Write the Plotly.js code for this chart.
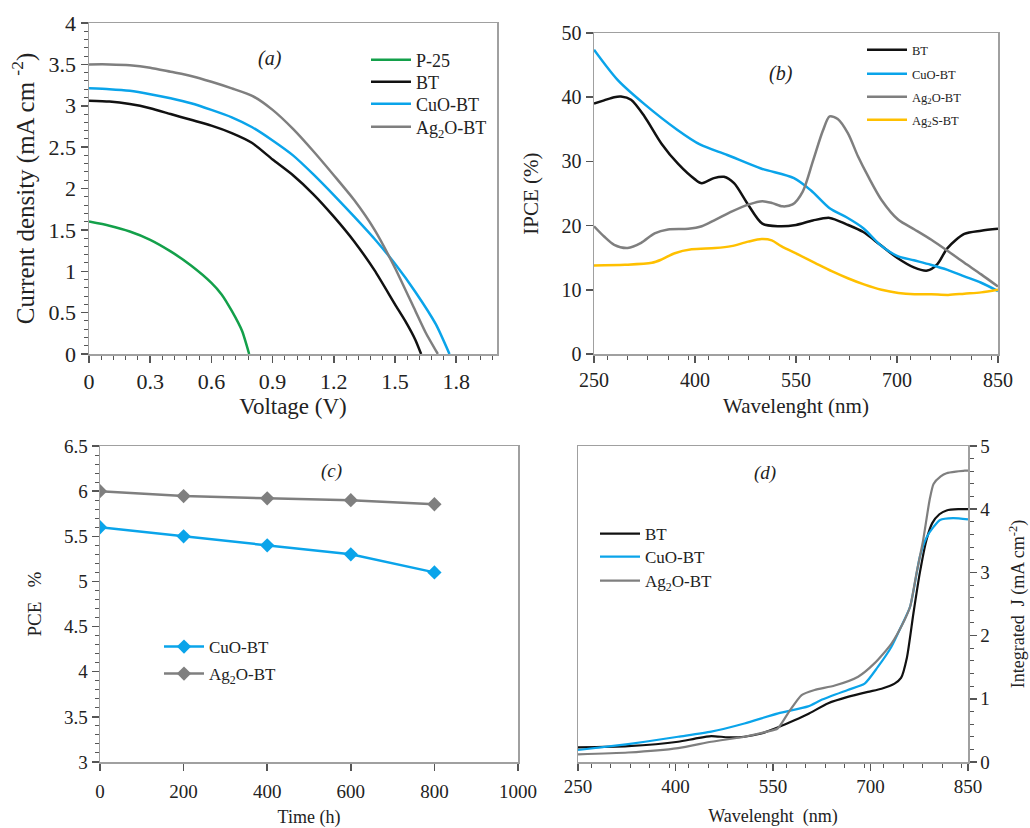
<!DOCTYPE html>
<html>
<head>
<meta charset="utf-8">
<script src="https://cdn.plot.ly/plotly-3.0.1.min.js"></script>
<style>html,body{margin:0;padding:0;background:#fff}#chart{width:1030px;height:828px}</style>
</head>
<body>
<div id="chart"></div>
<script>
// ---------- Panel (a): J-V curves ----------
const jvP25X = [0, 0.1, 0.2, 0.3, 0.4, 0.5, 0.6, 0.65, 0.7, 0.75, 0.785];
const jvP25Y = [1.6, 1.55, 1.48, 1.38, 1.24, 1.07, 0.86, 0.72, 0.52, 0.28, 0];
const jvBTX = [0, 0.1, 0.2, 0.3, 0.4, 0.5, 0.6, 0.7, 0.8, 0.9, 1.0, 1.1, 1.2, 1.3, 1.4, 1.5, 1.55, 1.6, 1.628];
const jvBTY = [3.06, 3.05, 3.02, 2.97, 2.9, 2.83, 2.76, 2.67, 2.55, 2.35, 2.16, 1.93, 1.66, 1.36, 1.01, 0.6, 0.4, 0.17, 0];
const jvCuOX = [0, 0.1, 0.2, 0.3, 0.4, 0.5, 0.6, 0.7, 0.8, 0.9, 1.0, 1.1, 1.2, 1.3, 1.4, 1.5, 1.6, 1.7, 1.767];
const jvCuOY = [3.21, 3.2, 3.18, 3.14, 3.09, 3.03, 2.95, 2.86, 2.74, 2.58, 2.40, 2.17, 1.92, 1.66, 1.39, 1.09, 0.75, 0.36, 0];
const jvAgX = [0, 0.1, 0.2, 0.3, 0.4, 0.5, 0.6, 0.7, 0.8, 0.9, 1.0, 1.1, 1.2, 1.3, 1.4, 1.5, 1.6, 1.65, 1.71];
const jvAgY = [3.5, 3.5, 3.49, 3.46, 3.41, 3.36, 3.29, 3.21, 3.12, 2.95, 2.72, 2.45, 2.16, 1.86, 1.5, 1.04, 0.52, 0.26, 0];

// ---------- Panel (b): IPCE ----------
const ipceBTX = [250, 265, 280, 290, 305, 325, 350, 375, 400, 410, 428, 443, 458, 478, 500, 525, 550, 575, 600, 625, 650, 675, 700, 725, 745, 760, 775, 800, 825, 850];
const ipceBTY = [39.0, 39.5, 40.0, 40.1, 39.6, 37.0, 32.8, 29.6, 27.2, 26.6, 27.4, 27.6, 26.6, 23.4, 20.3, 19.9, 20.1, 20.8, 21.2, 20.2, 19.0, 17.0, 15.0, 13.5, 13.0, 14.0, 16.5, 18.7, 19.2, 19.5];
const ipceCuOX = [250, 285, 324, 374, 408, 448, 498, 547, 572, 600, 625, 650, 675, 700, 725, 750, 775, 800, 825, 850];
const ipceCuOY = [47.4, 42.7, 39.0, 34.9, 32.6, 31.0, 28.9, 27.4, 25.5, 22.7, 21.3, 19.6, 17.0, 15.3, 14.6, 13.9, 13.1, 12.1, 11.1, 9.8];
const ipceAgOX = [250, 265, 280, 300, 320, 340, 360, 390, 410, 430, 455, 480, 500, 515, 530, 545, 560, 575, 590, 600, 612, 627, 642, 657, 677, 702, 726, 751, 776, 800, 825, 850];
const ipceAgOY = [19.9, 18.3, 17.0, 16.5, 17.3, 18.8, 19.4, 19.5, 19.9, 20.9, 22.2, 23.3, 23.8, 23.5, 23.0, 23.3, 25.3, 30.0, 34.8, 37.0, 36.6, 34.4, 30.8, 27.7, 24.0, 20.9, 19.4, 17.8, 16.0, 14.2, 12.4, 10.5];
const ipceAgSX = [250, 296, 336, 350, 370, 395, 430, 454, 479, 499, 514, 528, 553, 578, 603, 627, 652, 677, 702, 726, 751, 776, 800, 825, 850];
const ipceAgSY = [13.8, 13.9, 14.2, 14.7, 15.7, 16.3, 16.5, 16.8, 17.5, 17.9, 17.7, 16.8, 15.5, 14.2, 12.9, 11.8, 10.8, 10.0, 9.5, 9.3, 9.3, 9.2, 9.4, 9.6, 10.0];

// ---------- Panel (c): stability ----------
const timeH = [0, 200, 400, 600, 800];
const pceCuO = [5.6, 5.5, 5.4, 5.3, 5.1];
const pceAgO = [6.0, 5.945, 5.92, 5.9, 5.855];

// ---------- Panel (d): integrated J ----------
const ijBTX = [250, 327, 404, 430, 455, 481, 506, 532, 558, 583, 604, 635, 665, 696, 717, 737, 747, 756, 766, 776, 786, 795, 806, 817, 835, 850];
const ijBTY = [0.23, 0.25, 0.32, 0.37, 0.41, 0.39, 0.40, 0.45, 0.55, 0.66, 0.76, 0.93, 1.03, 1.11, 1.16, 1.24, 1.33, 1.65, 2.35, 3.0, 3.51, 3.78, 3.92, 3.98, 4.0, 4.0];
const ijCuOX = [250, 301, 353, 404, 455, 506, 558, 604, 624, 665, 691, 711, 732, 747, 761, 776, 786, 797, 807, 827, 850];
const ijCuOY = [0.19, 0.25, 0.32, 0.40, 0.48, 0.61, 0.77, 0.88, 0.98, 1.14, 1.24, 1.5, 1.82, 2.14, 2.46, 3.25, 3.55, 3.72, 3.83, 3.86, 3.84];
const ijAgOX = [250, 327, 404, 455, 506, 541, 557, 573, 594, 614, 645, 681, 706, 732, 752, 761, 771, 781, 791, 797, 808, 817, 845, 850];
const ijAgOY = [0.12, 0.15, 0.22, 0.32, 0.40, 0.48, 0.53, 0.77, 1.06, 1.14, 1.21, 1.35, 1.56, 1.87, 2.24, 2.46, 3.0, 3.51, 4.15, 4.4, 4.52, 4.57, 4.61, 4.61];

// ---------- styling ----------
const FONT = '"Liberation Serif", "Times New Roman", serif';
const C_GREEN = '#13a04a', C_BLACK = '#111111', C_BLUE = '#0aa4ea', C_GREY = '#7f7f7f', C_YELLOW = '#ffc000';
const TICKC = '#555555';
const W = 1030, H = 828;
const dx = (a, b) => [a / W, b / W];
const dy = (top, bot) => [1 - bot / H, 1 - top / H];

function ln(x, y, name, axN, legN, color, width, smooth) {
  const s = axN === 1 ? '' : String(axN);
  return {x: x, y: y, name: name, xaxis: 'x' + s, yaxis: 'y' + s, legend: legN, mode: 'lines',
    line: {color: color, width: width, shape: 'spline', smoothing: smooth}};
}

const traces = [
  ln(jvP25X, jvP25Y, 'P-25', 1, 'legend', C_GREEN, 2.5, 0.6),
  ln(jvBTX, jvBTY, 'BT', 1, 'legend2', C_BLACK, 2.5, 0.6),
  ln(jvCuOX, jvCuOY, 'CuO-BT', 1, 'legend3', C_BLUE, 2.5, 0.6),
  ln(jvAgX, jvAgY, 'Ag<sub>2</sub>O-BT', 1, 'legend4', C_GREY, 2.5, 0.6),

  ln(ipceBTX, ipceBTY, 'BT', 2, 'legend5', C_BLACK, 2.5, 0.8),
  ln(ipceCuOX, ipceCuOY, 'CuO-BT', 2, 'legend6', C_BLUE, 2.5, 0.8),
  ln(ipceAgOX, ipceAgOY, 'Ag<sub>2</sub>O-BT', 2, 'legend7', C_GREY, 2.5, 0.8),
  ln(ipceAgSX, ipceAgSY, 'Ag<sub>2</sub>S-BT', 2, 'legend8', C_YELLOW, 2.5, 0.8),

  {x: timeH, y: pceCuO, name: 'CuO-BT', xaxis: 'x3', yaxis: 'y3', legend: 'legend9', mode: 'lines+markers', line: {color: C_BLUE, width: 2.5}, marker: {symbol: 'diamond', size: 11, color: C_BLUE}},
  {x: timeH, y: pceAgO, name: 'Ag<sub>2</sub>O-BT', xaxis: 'x3', yaxis: 'y3', legend: 'legend10', mode: 'lines+markers', line: {color: C_GREY, width: 2.5}, marker: {symbol: 'diamond', size: 11, color: C_GREY}},

  ln(ijBTX, ijBTY, 'BT', 4, 'legend11', C_BLACK, 2.2, 0.6),
  ln(ijCuOX, ijCuOY, 'CuO-BT', 4, 'legend12', C_BLUE, 2.2, 0.6),
  ln(ijAgOX, ijAgOY, 'Ag<sub>2</sub>O-BT', 4, 'legend13', C_GREY, 2.2, 0.6)
];

function ax(o) {
  return Object.assign({
    showline: true, linecolor: '#a0a0a0', linewidth: 1.5, mirror: true,
    ticks: 'outside', tickcolor: TICKC, ticklen: 7, tickwidth: 1.5,
    showgrid: false, zeroline: false, fixedrange: true,
    tickfont: {family: FONT, size: 18, color: '#222'}
  }, o);
}
const minor = (d) => ({dtick: d, ticklen: 4, tickcolor: TICKC, tickwidth: 1, ticks: 'outside', showgrid: false});
const tf = (s) => ({family: FONT, size: s, color: '#222'});
// one legend per entry so each entry sits where the reference shows it
function leg(xText, yCenter, size) {
  return {x: (xText - 51) / W, y: 1 - yCenter / H, xref: 'paper', yref: 'paper', xanchor: 'left', yanchor: 'middle',
    bgcolor: 'rgba(0,0,0,0)', borderwidth: 0, font: tf(size), itemwidth: 40};
}
const ttl = (t, size, standoff) => ({text: t, font: tf(size), standoff: standoff});

const layout = {
  width: W, height: H, margin: {l: 0, r: 0, t: 0, b: 0},
  paper_bgcolor: '#fff', plot_bgcolor: '#fff', showlegend: true,
  font: {family: FONT, color: '#222'},
  // (a)
  xaxis: ax({domain: dx(89, 497), anchor: 'y', range: [0, 2.0], tick0: 0, dtick: 0.3, minor: minor(0.06),
    tickfont: tf(22), title: ttl('Voltage (V)', 23, 5)}),
  yaxis: ax({domain: dy(23, 354), anchor: 'x', range: [0, 4], dtick: 0.5, minor: minor(0.1),
    tickfont: tf(22), title: ttl('Current density (mA cm <sup>-2</sup>)', 25, 7)}),
  // (b)
  xaxis2: ax({domain: dx(594, 998), anchor: 'y2', range: [250, 850], tick0: 250, dtick: 150, minor: minor(30),
    tickfont: tf(20), title: ttl('Wavelenght (nm)', 21, 9)}),
  yaxis2: ax({domain: dy(33, 354), anchor: 'x2', range: [0, 50], dtick: 10,
    tickfont: tf(20), title: ttl('IPCE (%)', 21, 17)}),
  // (c)
  xaxis3: ax({domain: dx(100, 518), anchor: 'y3', range: [0, 1000], dtick: 200, ticklabelstandoff: 5,
    tickfont: tf(19), title: ttl('Time (h)', 18, 10)}),
  yaxis3: ax({domain: dy(446, 762), anchor: 'x3', range: [3, 6.5], dtick: 0.5, minor: minor(0.1),
    tickfont: tf(19), title: ttl('PCE&nbsp;&nbsp;&nbsp;%', 19, 17)}),
  // (d)
  xaxis4: ax({domain: dx(578, 968), anchor: 'y4', range: [250, 850], tick0: 250, dtick: 150, minor: minor(30),
    tickfont: tf(19), title: ttl('Wavelenght  (nm)', 18, 13)}),
  yaxis4: ax({domain: dy(446, 762), anchor: 'x4', side: 'right', range: [0, 5], dtick: 1, minor: minor(0.2),
    tickfont: tf(19), title: ttl('Integrated  J (mA cm<sup>-2</sup>)', 18, 22)}),

  // (a) legend entries
  legend: leg(417, 60, 18), legend2: leg(417, 82, 18), legend3: leg(417, 104, 18), legend4: leg(417, 127, 18),
  // (b) legend entries
  legend5: leg(913, 50, 12.5), legend6: leg(913, 74, 12.5), legend7: leg(913, 97, 12.5), legend8: leg(913, 120, 12.5),
  // (c) legend entries
  legend9: leg(210, 647, 17), legend10: leg(210, 674, 17),
  // (d) legend entries
  legend11: leg(646, 534, 17), legend12: leg(646, 557, 17), legend13: leg(646, 581, 17),

  annotations: [
    {text: '<i>(a)</i>', x: 256 / W, y: 1 - 45 / H, xref: 'paper', yref: 'paper', showarrow: false, font: tf(20)},
    {text: '<i>(b)</i>', x: 795 / W, y: 1 - 60 / H, xref: 'paper', yref: 'paper', showarrow: false, font: tf(20)},
    {text: '<i>(c)</i>', x: 319 / W, y: 1 - 471 / H, xref: 'paper', yref: 'paper', showarrow: false, font: tf(19)},
    {text: '<i>(d)</i>', x: 778 / W, y: 1 - 473 / H, xref: 'paper', yref: 'paper', showarrow: false, font: tf(19)}
  ]
};

Plotly.newPlot('chart', traces, layout, {displayModeBar: false, staticPlot: true});
</script>
</body>
</html>
